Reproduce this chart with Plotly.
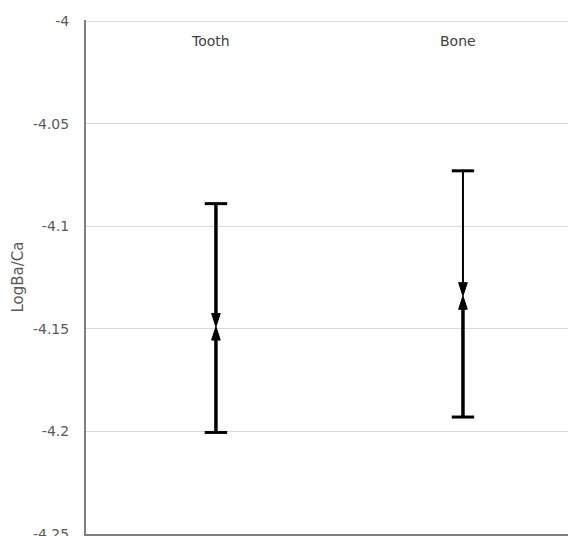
import plotly.graph_objects as go

categories = ["Tooth", "Bone"]
cat_pos = [0, 1]
means = [-4.149, -4.134]
highs = [-4.089, -4.073]
lows = [-4.2005, -4.193]
upper_widths = [3.5, 2]
lower_widths = [3.5, 3.5]
tick_vals = [-4, -4.05, -4.1, -4.15, -4.2, -4.25]
tick_text = ["-4", "-4.05", "-4.1", "-4.15", "-4.2", "-4.25"]

FONT = "DejaVu Sans"

fig = go.Figure()
for i, c in enumerate(categories):
    x = cat_pos[i]
    for end, w in ((highs[i], upper_widths[i]), (lows[i], lower_widths[i])):
        fig.add_trace(go.Scatter(
            x=[x, x], y=[end, means[i]], mode="lines+markers",
            line=dict(color="black", width=w),
            marker=dict(symbol=["circle", "arrow"], size=[0, 14], angleref="previous",
                        color="black", opacity=1, line=dict(width=1, color="black")),
            showlegend=False, hoverinfo="skip"))
    fig.add_trace(go.Scatter(
        x=[x, x], y=[highs[i], lows[i]], mode="markers",
        marker=dict(symbol="line-ew", size=16, line=dict(width=3, color="black")),
        showlegend=False, hoverinfo="skip"))
    fig.add_annotation(x=x - 0.02, y=-4.0097, text=c, showarrow=False,
                       font=dict(family=FONT, size=14, color="#404040"))

fig.update_layout(
    width=576, height=536,
    margin=dict(l=78, r=0, t=12, b=10),
    paper_bgcolor="white", plot_bgcolor="white",
    font=dict(family=FONT, size=14, color="#595959"),
)
fig.update_xaxes(range=[-0.526, 1.49], showgrid=False, zeroline=False,
                 showticklabels=False, showline=True, linecolor="#7f7f7f", linewidth=2)
fig.update_yaxes(range=[-4.25, -3.9995], tickvals=tick_vals, ticktext=tick_text,
                 showgrid=True, gridcolor="#d9d9d9", gridwidth=1, zeroline=False,
                 showline=True, linecolor="#7f7f7f", linewidth=2,
                 ticklabelstandoff=12,
                 title=dict(text="LogBa/Ca", standoff=6, font=dict(size=15, color="#595959")))

fig.write_html("out.html")
